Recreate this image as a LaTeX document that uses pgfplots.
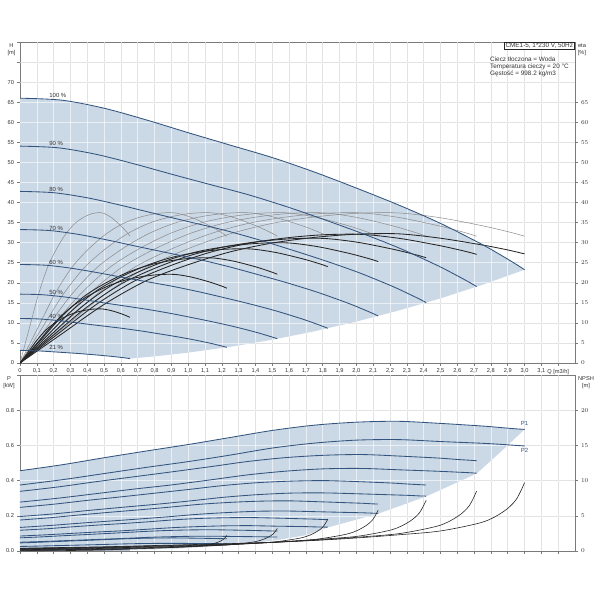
\documentclass[border=0pt]{standalone}
\usepackage{fontspec}
\setmainfont{Liberation Sans}
\usepackage{pgfplots}
\usepackage{pgfplotstable}
\pgfplotsset{compat=1.18}
\definecolor{shadec}{HTML}{CBD8E6}
\definecolor{hcol}{HTML}{33547E}
\definecolor{gridc}{HTML}{BBBBBB}
\definecolor{framec}{HTML}{7A7A7A}
\definecolor{thinc}{HTML}{8A8A8A}
\definecolor{darkc}{HTML}{262626}
\definecolor{textc}{HTML}{333333}

% columns: Q [m3/h], H [m], pump eta [%], total eta [%], P1 [kW], P2 [kW], NPSH [m]
\pgfplotstableread{
Q H Et Ed P1 P2 N
0 66.0 0 0 .456 .375 0.40
0.25 65.5 8.5 7.3 .490 .405 0.50
0.5 63.5 17.0 14.6 .530 .440 0.60
0.75 60.6 23.8 20.5 .568 .475 0.75
1.0 57.4 28.5 24.5 .605 .508 0.90
1.25 54.3 32.2 27.7 .645 .545 1.05
1.5 51.2 34.8 29.9 .685 .585 1.25
1.75 47.6 36.4 31.3 .715 .613 1.50
2.0 43.6 37.3 32.1 .732 .630 1.85
2.25 39.4 37.4 32.2 .737 .633 2.30
2.5 34.8 36.2 31.1 .725 .622 2.85
2.75 29.5 34.2 29.4 .710 .612 4.10
2.875 26.5 33.0 28.4 .700 .605 5.60
2.95 24.6 32.2 27.7 .694 .600 7.30
3.0 23.25 31.6 27.2 .691 .597 9.70
}\tblA
\pgfplotstableread{
Q H Et Ed P1 P2 N
0 54.05 0 0 .339 .278 0.35
0.226 53.64 8.5 7.28 .364 .300 0.44
0.453 52.01 17.0 14.57 .394 .326 0.53
0.679 49.63 23.8 20.40 .422 .352 0.66
0.905 47.01 28.5 24.42 .450 .376 0.79
1.131 44.47 32.2 27.60 .479 .404 0.92
1.358 41.93 34.8 29.82 .509 .433 1.10
1.584 38.98 36.4 31.19 .531 .454 1.31
1.81 35.71 37.3 31.97 .544 .467 1.62
2.036 32.27 37.4 32.05 .548 .469 2.01
2.263 28.50 36.2 31.02 .539 .461 2.50
2.489 24.16 34.2 29.31 .528 .453 3.59
2.602 21.70 33.0 28.28 .520 .448 4.91
2.67 20.15 32.2 27.60 .516 .445 6.39
2.715 19.04 31.6 27.08 .513 .442 8.50
}\tblB
\pgfplotstableread{
Q H Et Ed P1 P2 N
0 42.77 0 0 .248 .196 0.30
0.201 42.44 8.5 7.06 .266 .211 0.37
0.403 41.15 17.0 14.11 .288 .230 0.45
0.604 39.27 23.8 19.75 .308 .248 0.56
0.805 37.20 28.5 23.66 .329 .265 0.67
1.006 35.19 32.2 26.73 .350 .284 0.78
1.208 33.18 34.8 28.88 .372 .305 0.93
1.409 30.84 36.4 30.21 .388 .320 1.11
1.61 28.25 37.3 30.96 .397 .329 1.37
1.811 25.53 37.4 31.04 .400 .330 1.71
2.013 22.55 36.2 30.05 .394 .325 2.11
2.214 19.12 34.2 28.39 .386 .319 3.04
2.314 17.17 33.0 27.39 .380 .316 4.16
2.375 15.94 32.2 26.73 .377 .313 5.42
2.415 15.07 31.6 26.23 .375 .312 7.20
}\tblC
\pgfplotstableread{
Q H Et Ed P1 P2 N
0 33.26 0 0 .176 .134 0.24
0.178 33.01 8.5 6.80 .189 .145 0.30
0.355 32.00 17.0 13.60 .205 .158 0.36
0.533 30.54 23.8 19.04 .220 .170 0.45
0.71 28.93 28.5 22.80 .234 .182 0.54
0.888 27.37 32.2 25.76 .249 .195 0.63
1.065 25.80 34.8 27.84 .265 .209 0.75
1.243 23.99 36.4 29.12 .276 .219 0.90
1.42 21.97 37.3 29.84 .283 .226 1.11
1.598 19.86 37.4 29.92 .285 .227 1.38
1.775 17.54 36.2 28.96 .280 .223 1.71
1.953 14.87 34.2 27.36 .274 .219 2.46
2.041 13.36 33.0 26.40 .271 .217 3.36
2.095 12.40 32.2 25.76 .268 .215 4.38
2.13 11.72 31.6 25.28 .267 .214 5.82
}\tblD
\pgfplotstableread{
Q H Et Ed P1 P2 N
0 24.55 0 0 .118 .085 0.19
0.153 24.37 8.5 6.46 .126 .092 0.23
0.305 23.62 17.0 12.92 .137 .100 0.28
0.458 22.54 23.8 18.09 .147 .108 0.35
0.61 21.35 28.5 21.66 .156 .115 0.42
0.763 20.20 32.2 24.47 .166 .124 0.49
0.915 19.05 34.8 26.45 .177 .133 0.58
1.068 17.71 36.4 27.66 .185 .139 0.70
1.22 16.22 37.3 28.35 .189 .143 0.86
1.373 14.66 37.4 28.42 .190 .144 1.07
1.525 12.95 36.2 27.51 .187 .141 1.32
1.678 10.97 34.2 25.99 .183 .139 1.90
1.754 9.86 33.0 25.08 .181 .137 2.60
1.80 9.15 32.2 24.47 .179 .136 3.39
1.83 8.65 31.6 24.02 .178 .136 4.50
}\tblE
\pgfplotstableread{
Q H Et Ed P1 P2 N
0 17.16 0 0 .0747 .0498 0.13
0.128 17.03 8.5 5.95 .0803 .0537 0.17
0.255 16.51 17.0 11.90 .0868 .0584 0.20
0.383 15.76 23.8 16.66 .0930 .0630 0.25
0.51 14.92 28.5 19.95 .0991 .0674 0.30
0.638 14.12 32.2 22.54 .1057 .0723 0.35
0.765 13.31 34.8 24.36 .1122 .0776 0.41
0.893 12.38 36.4 25.48 .1171 .0813 0.50
1.02 11.34 37.3 26.11 .1199 .0836 0.61
1.148 10.24 37.4 26.18 .1207 .0840 0.76
1.275 9.05 36.2 25.34 .1188 .0825 0.94
1.403 7.67 34.2 23.94 .1163 .0812 1.35
1.466 6.89 33.0 23.10 .1147 .0803 1.85
1.505 6.40 32.2 22.54 .1137 .0796 2.41
1.53 6.05 31.6 22.12 .1132 .0792 3.20
}\tblF
\pgfplotstableread{
Q H Et Ed P1 P2 N
0 11.09 0 0 .0460 .0258 0.09
0.103 11.00 8.5 5.02 .0494 .0279 0.11
0.205 10.67 17.0 10.03 .0535 .0303 0.14
0.308 10.18 23.8 14.04 .0573 .0327 0.17
0.41 9.64 28.5 16.82 .0610 .0350 0.20
0.513 9.12 32.2 19.00 .0651 .0376 0.24
0.615 8.60 34.8 20.53 .0691 .0403 0.28
0.718 8.00 36.4 21.48 .0721 .0422 0.34
0.82 7.32 37.3 22.01 .0739 .0434 0.42
0.923 6.62 37.4 22.07 .0744 .0436 0.52
1.025 5.85 36.2 21.36 .0731 .0429 0.65
1.128 4.96 34.2 20.18 .0716 .0422 0.93
1.179 4.45 33.0 19.47 .0706 .0417 1.27
1.21 4.13 32.2 19.00 .0700 .0413 1.66
1.23 3.91 31.6 18.64 .0697 .0411 2.20
}\tblG
\pgfplotstableread{
Q H Et Ed P1 P2 N
0 3.14 0 0 .0117 .0039 0.025
0.0545 3.11 8.5 3.06 .0125 .0042 0.031
0.109 3.02 17.0 6.12 .0136 .0046 0.037
0.1635 2.88 23.8 8.57 .0145 .0049 0.047
0.218 2.73 28.5 10.26 .0155 .0053 0.056
0.2725 2.58 32.2 11.59 .0165 .0056 0.065
0.327 2.43 34.8 12.53 .0175 .0061 0.078
0.3815 2.26 36.4 13.10 .0183 .0064 0.093
0.436 2.07 37.3 13.43 .0187 .0065 0.115
0.4905 1.87 37.4 13.46 .0189 .0066 0.143
0.545 1.65 36.2 13.03 .0186 .0064 0.177
0.5995 1.40 34.2 12.31 .0182 .0063 0.254
0.6268 1.26 33.0 11.88 .0179 .0063 0.347
0.6431 1.17 32.2 11.59 .0178 .0062 0.453
0.654 1.10 31.6 11.38 .0177 .0062 0.60
}\tblH

% one curve per speed (100, 90, 80, 70, 60, 50, 40, 21 %) for a given column
\newcommand\allspeeds[2]{%
  \addplot[#1] table[x=Q,y=#2]{\tblA};
  \addplot[#1] table[x=Q,y=#2]{\tblB};
  \addplot[#1] table[x=Q,y=#2]{\tblC};
  \addplot[#1] table[x=Q,y=#2]{\tblD};
  \addplot[#1] table[x=Q,y=#2]{\tblE};
  \addplot[#1] table[x=Q,y=#2]{\tblF};
  \addplot[#1] table[x=Q,y=#2]{\tblG};
  \addplot[#1] table[x=Q,y=#2]{\tblH};}

\newcommand\tickfont{\fontsize{5.7}{6}\selectfont}
\newcommand\curvefont{\fontsize{6}{7}\selectfont}
\newcommand\infofont{\fontsize{6.4}{7}\selectfont}

\tikzset{wgrid/.style={white, opacity=0.6, line width=0.6bp}}
\pgfplotsset{
  base/.style={scale only axis, width=555bp, xmin=0, xmax=3.3,
    axis line style={framec, line width=0.6bp},
    tick style={framec, line width=0.5bp},
    tick align=outside, major tick length=2.5bp,
    tick label style={font=\tickfont, text=textc},
    xtick={0,0.1,0.2,0.3,0.4,0.5,0.6,0.7,0.8,0.9,1.0,1.1,1.2,1.3,1.4,1.5,1.6,1.7,1.8,1.9,2.0,2.1,2.2,2.3,2.4,2.5,2.6,2.7,2.8,2.9,3.0,3.1,3.2},
  },
  hline/.style={hcol, line width=0.85bp, smooth},
  thineta/.style={thinc, line width=0.5bp, smooth},
  darketa/.style={darkc, line width=0.85bp, smooth},
  npsh/.style={darkc, line width=0.6bp, smooth},
}

\begin{document}
\begin{tikzpicture}
\useasboundingbox (0bp,0bp) rectangle (600bp,-600bp);

% ---------------- upper chart: H and eta ----------------
\begin{axis}[base, height=321bp, at={(20bp,-363bp)}, anchor=south west,
  ymin=0, ymax=80,
  ytick={0,5,10,15,20,25,30,35,40,45,50,55,60,65,70,75,80},
  yticklabels={0,5,10,15,20,25,30,35,40,45,50,55,60,65,70,{},{}},
  xticklabels={0,{0,1},{0,2},{0,3},{0,4},{0,5},{0,6},{0,7},{0,8},{0,9},{1,0},{1,1},{1,2},{1,3},{1,4},{1,5},{1,6},{1,7},{1,8},{1,9},{2,0},{2,1},{2,2},{2,3},{2,4},{2,5},{2,6},{2,7},{2,8},{2,9},{3,0},{3,1},{Q [m3/h]}},
  xtick pos=bottom, ytick pos=left,
  grid=major, major grid style={gridc, line width=0.6bp}]
\addplot[fill=shadec, draw=none] coordinates {
 (0,3.14) (0,66.0) (0.25,65.5) (0.5,63.5) (0.75,60.6) (1.0,57.4) (1.25,54.3)
 (1.5,51.2) (1.75,47.6) (2.0,43.6) (2.25,39.4) (2.5,34.8) (2.75,29.5)
 (2.875,26.5) (2.95,24.6) (3.0,23.25) (2.75,19.5) (2.5,16.1) (2.25,13.06)
 (2.0,10.32) (1.75,7.9) (1.5,5.8) (1.25,4.03) (1.0,2.58) (0.8,1.65)
 (0.654,1.10) (0.545,1.65) (0.436,2.07) (0.327,2.43) (0.218,2.73)
 (0.109,3.02) (0,3.14)} --cycle;
\pgfplotsinvokeforeach{0.1,0.2,0.3,0.4,0.5,0.6,0.7,0.8,0.9,1.0,1.1,1.2,1.3,1.4,1.5,1.6,1.7,1.8,1.9,2.0,2.1,2.2,2.3,2.4,2.5,2.6,2.7,2.8,2.9,3.0,3.1,3.2}{
  \draw[wgrid] (axis cs:#1,0) -- (axis cs:#1,80);}
\pgfplotsinvokeforeach{5,10,15,20,25,30,35,40,45,50,55,60,65,70,75}{
  \draw[wgrid] (axis cs:0,#1) -- (axis cs:3.3,#1);}
\allspeeds{thineta}{Et}
\allspeeds{darketa}{Ed}
\allspeeds{hline}{H}
\node[font=\curvefont, text=textc] at (axis cs:0.225,66.7) {100 \%};
\node[font=\curvefont, text=textc] at (axis cs:0.215,54.6) {90 \%};
\node[font=\curvefont, text=textc] at (axis cs:0.215,43.3) {80 \%};
\node[font=\curvefont, text=textc] at (axis cs:0.215,33.6) {70 \%};
\node[font=\curvefont, text=textc] at (axis cs:0.215,25.0) {60 \%};
\node[font=\curvefont, text=textc] at (axis cs:0.215,17.5) {50 \%};
\node[font=\curvefont, text=textc] at (axis cs:0.215,11.7) {40 \%};
\node[font=\curvefont, text=textc] at (axis cs:0.215,3.8) {21 \%};
\end{axis}
\begin{axis}[base, height=321bp, at={(20bp,-363bp)}, anchor=south west,
  ymin=0, ymax=80, axis x line=none, axis y line*=right,
  ytick={0,5,10,15,20,25,30,35,40,45,50,55,60,65}]
\end{axis}

% ---------------- lower chart: P and NPSH ----------------
\begin{axis}[base, height=176bp, at={(20bp,-551bp)}, anchor=south west,
  ymin=0, ymax=1,
  ytick={0,0.2,0.4,0.6,0.8,1.0},
  yticklabels={0.0,0.2,0.4,0.6,0.8,{}},
  xticklabels={},
  xtick pos=bottom, ytick pos=left,
  grid=major, major grid style={gridc, line width=0.6bp}]
\addplot[fill=shadec, draw=none] coordinates {
 (0,0.0039) (0,0.456) (0.25,0.490) (0.5,0.530) (0.75,0.568) (1.0,0.605)
 (1.25,0.645) (1.5,0.685) (1.75,0.715) (2.0,0.732) (2.25,0.737) (2.5,0.725)
 (2.75,0.710) (2.875,0.700) (3.0,0.691) (2.86,0.565) (2.715,0.44)
 (2.415,0.31) (2.13,0.212) (1.83,0.134) (1.7,0.09) (1.53,0.062)
 (1.23,0.031) (0.9,0.012) (0.654,0.0062) (0.327,0.0061) (0,0.0039)} --cycle;
\pgfplotsinvokeforeach{0.1,0.2,0.3,0.4,0.5,0.6,0.7,0.8,0.9,1.0,1.1,1.2,1.3,1.4,1.5,1.6,1.7,1.8,1.9,2.0,2.1,2.2,2.3,2.4,2.5,2.6,2.7,2.8,2.9,3.0,3.1,3.2}{
  \draw[wgrid] (axis cs:#1,0) -- (axis cs:#1,1);}
\pgfplotsinvokeforeach{0.2,0.4,0.6,0.8}{
  \draw[wgrid] (axis cs:0,#1) -- (axis cs:3.3,#1);}
\allspeeds{hline}{P2}
\allspeeds{hline}{P1}
\node[font=\curvefont, text=hcol] at (axis cs:3.0,0.722) {P1};
\node[font=\curvefont, text=hcol] at (axis cs:3.0,0.57) {P2};
\end{axis}
\begin{axis}[base, height=176bp, at={(20bp,-551bp)}, anchor=south west,
  ymin=0, ymax=25, axis x line=none, axis y line*=right,
  ytick={0,5,10,15,20}]
\allspeeds{npsh}{N}
\end{axis}

% ---------------- axis titles and info ----------------
\node[font=\tickfont, text=textc] at (11.5bp,-45.5bp) {H};
\node[font=\tickfont, text=textc] at (11.5bp,-53.5bp) {[m]};
\node[font=\tickfont, text=textc] at (582bp,-45.5bp) {eta};
\node[font=\tickfont, text=textc] at (582bp,-53.5bp) {[\%]};
\node[font=\tickfont, text=textc] at (9bp,-379bp) {P};
\node[font=\tickfont, text=textc] at (9bp,-386.5bp) {[kW]};
\node[font=\tickfont, text=textc] at (586bp,-379bp) {NPSH};
\node[font=\tickfont, text=textc] at (586bp,-386.5bp) {[m]};
\node[draw=darkc, fill=white, line width=0.4bp, inner sep=1.3bp, anchor=north east,
  font=\infofont, text=textc] at (574.5bp,-41.5bp) {CME1-5, 1*230 V, 50Hz};
\node[font=\infofont, text=textc, anchor=west, inner sep=0pt] at (490bp,-59bp) {Ciecz tłoczona = Woda};
\node[font=\infofont, text=textc, anchor=west, inner sep=0pt] at (490bp,-66.5bp) {Temperatura cieczy = 20 °C};
\node[font=\infofont, text=textc, anchor=west, inner sep=0pt] at (490bp,-74bp) {Gęstość = 998.2 kg/m3};
\end{tikzpicture}
\end{document}
